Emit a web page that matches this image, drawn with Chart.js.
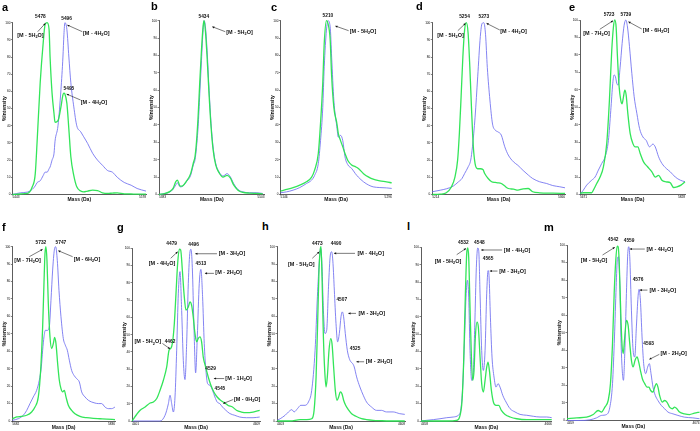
<!DOCTYPE html>
<html>
<head>
<meta charset="utf-8">
<script src="https://cdn.jsdelivr.net/npm/chart.js@4"></script>
<style>
  body { margin: 0; background: #fff; width: 700px; height: 431px; position: relative; overflow: hidden; }
  canvas { position: absolute; }
  .tag { position: absolute; font: bold 11px "Liberation Sans", Arial, sans-serif; line-height: 11px; color: #000; }
</style>
</head>
<body>
<script>
// ---- data (mass in Da, intensity in %) ----
const yTicks = [0, 10, 20, 30, 40, 50, 60, 70, 80, 90, 100];

const aRange = [5443, 5578];
const aMass = [5443, 5451, 5458, 5463, 5466, 5468, 5471, 5474, 5476, 5478, 5480, 5481, 5483, 5485, 5486, 5489, 5492, 5494, 5495, 5496, 5498, 5500, 5502, 5505, 5508, 5512, 5515, 5519, 5524, 5529, 5534, 5539, 5544, 5549, 5556, 5563, 5569, 5578];
const aBlue = [0, 1, 1.4, 3, 5, 7, 8, 11, 13, 13, 15, 16, 20, 24, 31, 40, 61, 80, 93, 100, 96, 80, 65, 51, 40, 36.5, 33.6, 29.7, 24, 20, 17, 14, 13, 10, 7, 5.4, 3.5, 2];
const aGreen = [0, 0.3, 0.6, 4.5, 12, 32, 65, 88, 99, 100, 96, 80, 59, 47, 42, 43, 51, 58, 59, 58.5, 53, 38, 22, 11, 4.5, 2, 1.5, 2, 2.5, 2.3, 1, 0.6, 0.8, 1, 0.4, 0.3, 0.2, 0.2];

const bRange = [5383, 5503];
const bMass = [5383, 5390, 5395.5, 5399, 5402, 5404, 5407, 5410, 5414, 5419, 5422, 5424, 5425.6, 5427.5, 5429.4, 5431.3, 5433.2, 5434.3, 5435.8, 5437.7, 5440, 5442.2, 5444.5, 5447.5, 5451.3, 5455.8, 5460.4, 5464.1, 5467.9, 5472.8, 5478.5, 5486, 5493.6, 5501];
const bBlue = [0, 0.6, 1.5, 3, 5.4, 6.7, 4.4, 4.8, 7.3, 11, 17, 20, 27, 39, 58, 77, 95, 100, 96.5, 83, 60, 41, 27.4, 17.9, 13, 10.6, 12, 10.2, 6.3, 2.9, 1.5, 1, 1, 0.6];
const bGreen = [0, 0.6, 1.8, 3.5, 7.3, 8.3, 4.8, 5, 7.5, 12, 18, 22, 30, 45, 65, 83, 97, 100, 94, 79, 57, 39, 26, 17, 12.5, 10, 11, 9.5, 5.5, 2.5, 1.2, 0.8, 0.6, 0.4];

const cRange = [5146, 5296];
const cMass = [5146, 5154, 5163, 5172, 5181, 5188, 5192, 5197, 5200, 5203, 5205, 5208, 5210, 5213, 5215, 5218, 5222, 5224, 5227, 5230, 5233, 5237, 5242, 5247, 5251, 5258, 5265, 5271, 5280, 5289, 5296];
const cBlue = [1, 1.5, 2.5, 4, 6.3, 8.3, 11, 17.9, 31, 50, 73.5, 94.6, 100, 96.5, 79, 54, 39, 33, 34, 31, 21.7, 17, 15, 12, 10, 7.3, 5.4, 4.4, 4, 3.8, 3.5];
const cGreen = [2, 2.9, 4, 5.4, 7.3, 10, 14, 23.6, 41, 64, 87, 100, 98.5, 89, 68, 50, 41, 35, 31, 27.4, 23.6, 19.4, 17, 16, 15, 12, 10, 8.8, 7.9, 7.3, 6.7];

const dRange = [5214, 5366];
const dMassBlue = [5214, 5223, 5230, 5238, 5244, 5248, 5251, 5255, 5258, 5260, 5263, 5266, 5269, 5271, 5273, 5275, 5277, 5280, 5283, 5286, 5289, 5293, 5297, 5301, 5307, 5312, 5318, 5324, 5329, 5337, 5345, 5352, 5360, 5366];
const dBlue = [1.6, 2.5, 3.3, 4.9, 7.4, 9.3, 12.2, 16, 20, 27.8, 45, 68.5, 92, 99.5, 100, 93, 74, 55, 41, 37.5, 36.5, 34.6, 27.8, 23, 19, 17, 14, 11.3, 9.3, 7.4, 6.4, 5.2, 4.5, 3.9];
const dMassGreen = [5214, 5223, 5230, 5236, 5240, 5243, 5245, 5247, 5249, 5251, 5253, 5255, 5257, 5259, 5261, 5263, 5266, 5269, 5272, 5274, 5278, 5282, 5286, 5289, 5293, 5297, 5301, 5307, 5312, 5318, 5324, 5329, 5337, 5352, 5366];
const dGreen = [0, 0.2, 1, 4.5, 10.3, 20, 35.5, 57, 80, 95.7, 100, 94, 74, 49, 27.8, 18, 15, 15, 14.6, 12.2, 9.3, 7.4, 7, 6.8, 6.4, 4.9, 3.5, 3.1, 2.5, 3.3, 3.5, 1.6, 1, 0.8, 0.6];

const eRange = [5671, 5828];
const eMassBlue = [5671, 5676, 5681, 5688.5, 5693.5, 5698.5, 5703.5, 5708.5, 5713.5, 5717, 5720, 5722, 5724, 5726, 5728, 5731, 5734, 5737, 5739.5, 5742, 5745, 5748.5, 5752, 5756, 5760, 5765, 5770, 5775, 5780, 5783.5, 5788.5, 5793.5, 5800, 5806, 5813.5, 5821, 5828];
const eBlue = [0, 2.5, 5.4, 8.2, 10, 14, 17.8, 21.6, 31, 48, 63.7, 68.5, 67.5, 63.7, 62.7, 73, 86.6, 97, 100, 96, 84.7, 69.4, 56, 46.5, 37.9, 33, 31, 27.3, 28.9, 27.3, 21.6, 17.8, 14.9, 13, 10, 8.2, 7.3];
const eMassGreen = [5671, 5676, 5683.5, 5688.5, 5691, 5696, 5701, 5706, 5711, 5715, 5718.5, 5721, 5723, 5725, 5727, 5729.5, 5732, 5734, 5736, 5738, 5740, 5742.5, 5746, 5750, 5753.5, 5757.5, 5761, 5766, 5772, 5778.5, 5783.5, 5788.5, 5793.5, 5800, 5806, 5811, 5816, 5822, 5828];
const eGreen = [0.6, 1, 1, 1, 2.5, 6.3, 10, 15.9, 29.3, 54, 82.8, 96, 100, 96, 79, 61.8, 54, 52, 56, 59.8, 57, 46.5, 35, 29.3, 27.3, 27.3, 23.5, 18.7, 15.9, 13, 10, 11, 8.2, 7.3, 6.7, 4, 4.4, 5.4, 7.3];

const fRange = [5682, 5836];
const fMassBlue = [5682, 5691, 5698.5, 5703.5, 5708.5, 5713.5, 5718.5, 5722.5, 5725.5, 5727.5, 5729.5, 5731.5, 5734.5, 5737.5, 5740, 5742.5, 5745, 5747, 5749.5, 5752, 5755, 5758.5, 5761.5, 5764.5, 5767.5, 5771, 5774.5, 5778.5, 5782.5, 5786, 5791, 5796, 5801, 5806, 5811, 5816, 5821, 5826, 5831, 5836];
const fBlue = [0.4, 1.3, 3.3, 6, 10, 13.8, 17.6, 23.4, 31, 40.6, 48.3, 52, 52, 54, 69.3, 86.6, 98, 100, 92, 75, 59.8, 47.3, 43.5, 40.6, 34.9, 29, 26.2, 24.3, 22.4, 16.7, 13.8, 11.9, 10.9, 10.3, 10, 10, 8, 7.1, 7.1, 8];
const fMassGreen = [5682, 5688.5, 5696, 5703.5, 5711, 5716, 5721, 5724.5, 5727.5, 5729.5, 5731, 5732.5, 5734, 5736, 5738.5, 5741, 5743.5, 5745.5, 5747.5, 5750, 5752.5, 5755, 5757.5, 5760, 5762.5, 5766, 5771, 5776, 5783.5, 5793.5, 5803.5, 5813.5, 5823.5, 5836];
const fGreen = [1.3, 2.3, 2.7, 3.3, 5.2, 8, 13.8, 29, 54, 79, 96, 100, 92, 67.4, 48.3, 41.6, 44.4, 48, 44.4, 33, 23.4, 18.6, 16.7, 17.6, 13.8, 9, 6.1, 4.2, 2.7, 1.9, 1.5, 1.3, 1.1, 0.8];

const gRange = [4401, 4609];
const gMassBlue = [4401.3, 4446.6, 4454.7, 4460.1, 4462.8, 4465.5, 4468.2, 4470.9, 4473.6, 4476.3, 4479, 4481.7, 4484.4, 4487.1, 4489.8, 4492.5, 4495.2, 4496.8, 4499, 4501.7, 4504.4, 4507.1, 4510.3, 4513, 4515.7, 4518.4, 4521.1, 4523.8, 4527.6, 4531.9, 4535.7, 4539.4, 4543.8, 4548.1, 4553.5, 4560, 4568, 4576.1, 4586.9, 4597.7, 4608.5];
const gBlue = [0, 0, 3.3, 10, 14.9, 10, 5.2, 13.9, 41, 74, 86.5, 64, 35, 24, 44.9, 79.7, 98, 99.4, 89, 54.5, 27.9, 48.7, 79.7, 87.8, 72, 44.9, 29.4, 21.7, 20.7, 17.8, 13.9, 11, 10, 8.1, 6.2, 4.3, 3.3, 2.3, 1.9, 1.9, 2.3];
const gMassGreen = [4401.3, 4408.8, 4414.2, 4422.3, 4430.4, 4435.8, 4441.2, 4446.6, 4452, 4457.4, 4461.2, 4463.9, 4466.6, 4469.8, 4472.5, 4475.2, 4477.9, 4480.1, 4482.8, 4485.5, 4488.7, 4492.5, 4495.2, 4497.9, 4500.6, 4503.3, 4506, 4508.7, 4511.4, 4514.1, 4516.8, 4520.6, 4524.9, 4529.2, 4534, 4539.4, 4544.8, 4551.9, 4557.3, 4564.3, 4570.7, 4578.8, 4586.9, 4597.7, 4608.5];
const gGreen = [0, 3.9, 6.2, 8.1, 10.4, 11, 13, 17.8, 23.6, 31.3, 41, 42, 44.9, 56.5, 73.9, 91.3, 99.5, 99, 87.4, 73.9, 64.2, 66, 69, 67, 60, 50.7, 45.8, 47.8, 48.7, 45.8, 37, 31.3, 25.5, 20.7, 16.8, 13.9, 12, 10.4, 9, 8.1, 6.2, 5.2, 4.8, 5.2, 6.2];

const hRange = [4403, 4608];
const hMassBlue = [4403.3, 4408.1, 4416.1, 4421.4, 4426.7, 4430.4, 4435.8, 4441.1, 4448, 4453.3, 4458.6, 4464, 4467.7, 4470.9, 4473, 4475.1, 4477.3, 4479.9, 4482.6, 4485.5, 4488.4, 4490.6, 4492.7, 4494.8, 4497.5, 4500.1, 4502.8, 4505.5, 4507.6, 4509.7, 4512.4, 4515.6, 4518.8, 4521.4, 4524.1, 4526.7, 4530.5, 4535.8, 4541.1, 4546.4, 4554.4, 4562.4, 4570.4, 4578.3, 4589, 4599.6, 4607.6];
const hBlue = [0.4, 1.3, 3.3, 5.2, 6.5, 5.2, 7.1, 9, 9, 10.9, 17.6, 40.6, 71.3, 92.3, 99, 88.5, 63.6, 50.2, 52.1, 77, 95.2, 97.1, 90.4, 75.1, 55.9, 45.4, 50.2, 59.8, 62.6, 59.8, 50.2, 40.6, 35.8, 33.9, 33, 31, 25.3, 19.5, 14.8, 10.9, 8, 6.1, 6.1, 5.2, 5.2, 4.2, 3.8];
const hMassGreen = [4403.3, 4424.1, 4440, 4450.7, 4458.6, 4462.4, 4465.6, 4468.2, 4470.3, 4472.5, 4473.5, 4475.1, 4477.3, 4479.4, 4481.5, 4483.6, 4486.3, 4489, 4491.1, 4493.7, 4496.4, 4499.1, 4501.7, 4504.4, 4507, 4509.7, 4512.9, 4517.2, 4522.5, 4529.4, 4538.4, 4546.4, 4557.1, 4567.7, 4583.7, 4607.6];
const hGreen = [0, 0, 0.8, 0.8, 1.3, 6.1, 25.3, 57.9, 86.6, 99, 100, 82.8, 48.3, 29.1, 19.5, 25.3, 40.6, 47.3, 44.4, 31, 17.6, 11.9, 13.8, 16.7, 15.7, 11.9, 9, 6.5, 4.2, 2.7, 1.3, 0.8, 0.4, 0.2, 0, 0];

const lRange = [4457.5, 4666];
const lMassBlue = [4457.5, 4466.6, 4477.2, 4487.8, 4498.5, 4509.1, 4517.1, 4520.8, 4524, 4526.7, 4529.3, 4531.5, 4533.6, 4535.7, 4538.4, 4540.5, 4543.2, 4545.8, 4548, 4549.6, 4551.7, 4554.3, 4557, 4559.7, 4562.3, 4564.5, 4566, 4568.2, 4570.8, 4574, 4577.2, 4580.4, 4583.6, 4587.9, 4593.2, 4599.6, 4607.5, 4615.5, 4626.2, 4636.8, 4647.4, 4658.1, 4666];
const lBlue = [0, 0.4, 0.8, 1.3, 1.9, 2.3, 3.3, 6.1, 19.5, 44.4, 71.3, 81, 71.3, 40.6, 23.4, 25.3, 54, 88.5, 99.6, 98, 73.2, 40.6, 29.1, 40.6, 73.2, 86.6, 83.7, 59.8, 36.8, 25.3, 19.5, 21.5, 19.5, 14.8, 10.9, 7.1, 5.2, 3.8, 3.3, 2.7, 2.3, 2.3, 1.9];
const lMassGreen = [4457.5, 4477.2, 4498.5, 4514.4, 4519.8, 4523, 4525.6, 4528.3, 4530.4, 4532, 4533.6, 4535.7, 4537.9, 4540, 4542.1, 4544.2, 4546.9, 4549, 4551.7, 4554.3, 4557, 4559.7, 4562.3, 4564.5, 4566.6, 4569.8, 4573, 4577.2, 4581.5, 4585.7, 4591.6, 4599.6, 4610.2, 4626.2, 4647.4, 4666];
const lGreen = [0, 0, 0, 0.4, 3.3, 11.9, 34.9, 73.2, 96.2, 99.6, 94.3, 65.5, 36.8, 23.4, 29.1, 48.3, 56.9, 54, 36.8, 21.5, 16.7, 23.4, 31, 33.9, 29.1, 17.6, 10.9, 9, 9, 6.1, 3.8, 2.3, 1.3, 0.8, 0.8, 0.8];

const mRange = [4459.3, 4673.6];
const mMassBlue = [4459.3, 4480.2, 4496.4, 4507.1, 4515.1, 4523.2, 4528.6, 4532.9, 4536.1, 4538.8, 4540.9, 4542.5, 4544.7, 4546.8, 4549, 4550.6, 4552.7, 4555.4, 4557.6, 4559.2, 4560.8, 4563.5, 4566.2, 4568.9, 4571.5, 4574.2, 4575.8, 4578, 4580.7, 4583.3, 4586.6, 4589.8, 4592.5, 4595.2, 4598.4, 4602.1, 4606.4, 4611.8, 4617.2, 4622.6, 4630.6, 4638.7, 4649.4, 4662.8, 4673.6];
const mBlue = [0, 0, 0.4, 1.5, 2.9, 3.4, 7.6, 21, 47.6, 76.2, 92.4, 93.3, 78, 43.8, 26.7, 22.9, 38, 72.4, 95.2, 99, 93.3, 62.9, 40, 36.2, 53.3, 70.5, 74.7, 68.6, 47.6, 32.4, 26.7, 30.5, 32.4, 26.7, 19, 14.3, 11.4, 8.6, 6.7, 4.8, 3.8, 2.9, 1.9, 1.5, 1];
const mMassGreen = [4459.3, 4474.9, 4491, 4501.7, 4509.8, 4515.1, 4520.5, 4525.9, 4529.6, 4532.9, 4535.6, 4538.2, 4540.4, 4542, 4543.6, 4545.8, 4547.9, 4550.1, 4552.7, 4555.4, 4558.1, 4560.8, 4563.5, 4566.2, 4569.4, 4572.6, 4575.3, 4578, 4581.2, 4585, 4588.7, 4591.9, 4594.6, 4598.4, 4601.1, 4603.8, 4606.4, 4609.1, 4613.4, 4617.2, 4620.9, 4625.2, 4629.5, 4633.3, 4637, 4641.3, 4649.4, 4657.5, 4665.5, 4673.6];
const mGreen = [1, 1.5, 1.9, 3.4, 5.7, 4.8, 7.6, 11.4, 21, 43.8, 72.4, 91.4, 99.4, 99, 91.4, 66.7, 45.7, 38.1, 47.6, 57.1, 54.3, 43.8, 34.3, 30.5, 34.3, 36.2, 33.3, 28.6, 23.8, 21, 19, 19, 17.1, 16.2, 19, 21, 19, 14.3, 10.5, 11.4, 10.5, 7.6, 6.7, 7.6, 6.7, 4.8, 3.8, 3.4, 4.2, 4.8];

// ---- layout ----
const FONT = '"Liberation Sans", Arial, sans-serif';
const BLUE = 'rgba(110,110,240,0.95)';
const GREEN = 'rgba(40,228,80,0.95)';

// peak labels: anchored on a (mass, intensity) point, offsets in px
const panels = [
  { tag: 'a', L: 12.5, R: 146, T: 22.7, B: 194.5, range: aRange, bm: aMass, b: aBlue, gm: aMass, g: aGreen, notes: [
    { m: 5478, i: 100, num: '5478', nx: -6.7, ny: -6, ion: '[M - 5H2O]', ix: -16.7, iy: 12.3, ax: -9.4, ay: 9, bx: -1.7, by: 0.6 },
    { m: 5496, i: 100, num: '5496', nx: 1.7, ny: -4, ion: '[M - 4H2O]', ix: 31.4, iy: 10.6, ax: 17.4, ay: 9, bx: 2.4, by: 2.3 },
    { m: 5495, i: 59, num: '5495', nx: 5, ny: -4, ion: '[M - 4H2O]', ix: 30, iy: 9.6, ax: 16.7, ay: 6.9, bx: 2.7, by: 0.9 }] },
  { tag: 'b', L: 159, R: 264.5, T: 20.7, B: 194.5, range: bRange, bm: bMass, b: bBlue, gm: bMass, g: bGreen, notes: [
    { m: 5434, i: 100, num: '5434', nx: 0, ny: -4, ion: '[M - 5H2O]', ix: 35.7, iy: 12, ax: 21.4, ay: 11, bx: 8.4, by: 6 }] },
  { tag: 'c', L: 280.5, R: 391.7, T: 20.7, B: 194.5, range: cRange, bm: cMass, b: cBlue, gm: cMass, g: cGreen, notes: [
    { m: 5210, i: 100, num: '5210', nx: 0, ny: -4.7, ion: '[M - 5H2O]', ix: 35, iy: 11, ax: 20.7, ay: 10, bx: 7.4, by: 5.3 }] },
  { tag: 'd', L: 432.3, R: 565, T: 22.7, B: 194.5, range: dRange, bm: dMassBlue, b: dBlue, gm: dMassGreen, g: dGreen, notes: [
    { m: 5254, i: 100, num: '5254', nx: -2.7, ny: -6, ion: '[M - 5H2O]', ix: -16.7, iy: 12.3, ax: -9.4, ay: 8, bx: -1.7, by: 0.6 },
    { m: 5273, i: 100, num: '5273', nx: 0, ny: -6, ion: '[M - 4H2O]', ix: 29.7, iy: 9, ax: 16, ay: 7.3, bx: 2.7, by: 0.6 }] },
  { tag: 'e', L: 580, R: 685, T: 20, B: 194.5, range: eRange, bm: eMassBlue, b: eBlue, gm: eMassGreen, g: eGreen, notes: [
    { m: 5723, i: 100, num: '5723', nx: -5.7, ny: -5, ion: '[M - 7H2O]', ix: -18.3, iy: 13.3, ax: -15, ay: 9.3, bx: -1.7, by: 0.7 },
    { m: 5739.5, i: 100, num: '5739', nx: 0, ny: -5, ion: '[M - 6H2O]', ix: 30.3, iy: 10.7, ax: 16, ay: 9, bx: 2.6, by: 1.7 }] },
  { tag: 'f', L: 12.3, R: 115, T: 246.7, B: 421, range: fRange, bm: fMassBlue, b: fBlue, gm: fMassGreen, g: fGreen, notes: [
    { m: 5732, i: 100, num: '5732', nx: -4.7, ny: -4.4, ion: '[M - 7H2O]', ix: -18, iy: 14, ax: -16.4, ay: 10, bx: -3, by: 2.6 },
    { m: 5747, i: 100, num: '5747', nx: 5.3, ny: -4.4, ion: '[M - 6H2O]', ix: 31.3, iy: 12.6, ax: 17, ay: 10, bx: 2.6, by: 4 }] },
  { tag: 'g', L: 132, R: 260, T: 248.3, B: 421, range: gRange, bm: gMassBlue, b: gBlue, gm: gMassGreen, g: gGreen, notes: [
    { m: 4479, i: 100, num: '4479', nx: -8.3, ny: -5, ion: '[M - 4H2O]', ix: -18, iy: 15, ax: -9.3, ay: 10, bx: -2.3, by: 3.4 },
    { m: 4496.8, i: 99.4, num: '4496', nx: 2.6, ny: -5, ion: '[M - 3H2O]', ix: 41, iy: 4.4, ax: 26, ay: 4.4, bx: 4.3, by: 4.4 },
    { m: 4513, i: 87.8, num: '4513', nx: 0, ny: -6, ion: '[M - 2H2O]', ix: 27.7, iy: 3.4, ax: 13, ay: 4, bx: 4, by: 4 },
    { m: 4462.8, i: 42, num: '4462', nx: 0, ny: -6.6, ion: '[M - 5H2O]', ix: -22.3, iy: -6.6, ax: -7.6, ay: -5, bx: 0, by: 0.4 },
    { m: 4528.7, i: 20.7, num: '4529', nx: 0, ny: -16.7, ion: '[M - 1H2O]', ix: 28, iy: -6.7, ax: 13.6, ay: -6.7, bx: 3.3, by: -6.7 },
    { m: 4543.8, i: 10, num: '4545', nx: 0, ny: -15.2, ion: '[M - 0H2O]', ix: 27.3, iy: -4.5, ax: 13.3, ay: -4.2, bx: 3.3, by: -0.2 }] },
  { tag: 'h', L: 277, R: 405, T: 246.7, B: 421, range: hRange, bm: hMassBlue, b: hBlue, gm: hMassGreen, g: hGreen, notes: [
    { m: 4473, i: 100, num: '4473', nx: -3.4, ny: -3.4, ion: '[M - 5H2O]', ix: -19.4, iy: 17.3, ax: -8.4, ay: 11.6, bx: -1.4, by: 5 },
    { m: 4490.6, i: 97.1, num: '4490', nx: 4.3, ny: -8.4, ion: '[M - 4H2O]', ix: 39, iy: 1.6, ax: 23.3, ay: 1.6, bx: 2.3, by: 1.6 },
    { m: 4507.6, i: 62.6, num: '4507', nx: -0.6, ny: -12.5, ion: '[M - 3H2O]', ix: 29.4, iy: 1.5, ax: 13.7, ay: 1.5, bx: 6, by: 1.5 },
    { m: 4524.1, i: 33, num: '4525', nx: 2.5, ny: -15, ion: '[M - 2H2O]', ix: 26.5, iy: -1.7, ax: 11.5, ay: -1.7, bx: 3.8, by: -1.7 }] },
  { tag: 'l', L: 421, R: 551.7, T: 247.3, B: 421, range: lRange, bm: lMassBlue, b: lBlue, gm: lMassGreen, g: lGreen, notes: [
    { m: 4532, i: 99.6, num: '4532', nx: -4.4, ny: -5, ion: '[M - 5H2O]', ix: -19.7, iy: 13.4, ax: -11, ay: 6.7, bx: -1.7, by: 0.4 },
    { m: 4548, i: 99.6, num: '4548', nx: 1.7, ny: -5, ion: '[M - 4H2O]', ix: 39.4, iy: 2, ax: 24.4, ay: 2, bx: 3.4, by: 2 },
    { m: 4564.5, i: 86.6, num: '4565', nx: 0, ny: -12.2, ion: '[M - 3H2O]', ix: 24.4, iy: 0.5, ax: 9.4, ay: 0.5, bx: 1.7, by: 0.5 }] },
  { tag: 'm', L: 567, R: 699.5, T: 245, B: 420.5, range: mRange, bm: mMassBlue, b: mBlue, gm: mMassGreen, g: mGreen, notes: [
    { m: 4542, i: 100, num: '4542', nx: -5, ny: -5, ion: '[M - 5H2O]', ix: -24, iy: 15.7, ax: -15.6, ay: 10, bx: -3.3, by: 2.3 },
    { m: 4559.2, i: 99, num: '4559', nx: 0.3, ny: -6, ion: '[M - 4H2O]', ix: 31, iy: 2.3, ax: 16, ay: 2.3, bx: 1, by: 2.3 },
    { m: 4575.8, i: 74.7, num: '4576', nx: -1, ny: -10, ion: '[M - 3H2O]', ix: 23.7, iy: 0.7, ax: 8.4, ay: 0.7, bx: 0.7, by: 0.7 },
    { m: 4592.5, i: 32.4, num: '4593', nx: -0.7, ny: -20, ion: '[M - 2H2O]', ix: 24.3, iy: -10, ax: 10, ay: -9.3, bx: 0, by: -4.3 }] }
];

const tagPos = { a: [2, 2], b: [151, 1], c: [271, 2], d: [416, 1], e: [569, 2], f: [2, 222], g: [117, 222], h: [262, 221], l: [407, 221], m: [544, 222] };

function toXY(xs, ys) {
  return xs.map((x, k) => ({ x: x, y: ys[k] }));
}

// ion label with a subscript 2
function drawIon(ctx, text, cx, cy) {
  const k = text.indexOf('H2');
  const head = text.slice(0, k + 1), tail = text.slice(k + 2);
  ctx.font = 'bold 5.5px ' + FONT;
  const w1 = ctx.measureText(head).width, w3 = ctx.measureText(tail).width;
  ctx.font = 'bold 3.8px ' + FONT;
  const w2 = ctx.measureText('2').width;
  const x = cx - (w1 + w2 + w3) / 2;
  ctx.textAlign = 'left';
  ctx.font = 'bold 5.5px ' + FONT;
  ctx.fillText(head, x, cy);
  ctx.fillText(tail, x + w1 + w2, cy);
  ctx.font = 'bold 3.8px ' + FONT;
  ctx.fillText('2', x + w1, cy + 1.6);
}

function drawArrow(ctx, x0, y0, x1, y1) {
  ctx.beginPath();
  ctx.moveTo(x0, y0);
  ctx.lineTo(x1, y1);
  ctx.stroke();
  const a = Math.atan2(y1 - y0, x1 - x0), h = 2.4;
  ctx.beginPath();
  ctx.moveTo(x1, y1);
  ctx.lineTo(x1 - h * Math.cos(a - 0.45), y1 - h * Math.sin(a - 0.45));
  ctx.lineTo(x1 - h * Math.cos(a + 0.45), y1 - h * Math.sin(a + 0.45));
  ctx.closePath();
  ctx.fill();
}

const peakNotes = {
  id: 'peakNotes',
  afterDatasetsDraw(chart, args, opts) {
    const ctx = chart.ctx, xs = chart.scales.x, ys = chart.scales.y;
    ctx.save();
    ctx.fillStyle = '#111';
    ctx.strokeStyle = '#222';
    ctx.lineWidth = 0.6;
    ctx.textBaseline = 'middle';
    opts.notes.forEach(n => {
      const X = xs.getPixelForValue(n.m), Y = ys.getPixelForValue(n.i);
      ctx.font = 'bold 4.8px ' + FONT;
      ctx.textAlign = 'center';
      ctx.fillText(n.num, X + n.nx, Y + n.ny);
      drawIon(ctx, n.ion, X + n.ix, Y + n.iy);
      drawArrow(ctx, X + n.ax, Y + n.ay, X + n.bx, Y + n.by);
    });
    ctx.restore();
  }
};

panels.forEach(p => {
  const top = p.T > 200;
  const cl = Math.floor(p.L - 11), cr = Math.ceil(p.R + 4);
  const ct = Math.floor(p.T - 10), cb = Math.ceil(p.B + 10.5);
  const padL = p.L - cl, padR = cr - p.R, padT = p.T - ct, padB = cb - p.B;
  const tOff = top ? 6.5 : 5.3;

  const cv = document.createElement('canvas');
  cv.width = cr - cl;
  cv.height = cb - ct;
  cv.style.left = cl + 'px';
  cv.style.top = ct + 'px';
  document.body.appendChild(cv);

  new Chart(cv, {
    type: 'line',
    data: {
      datasets: [
        { data: toXY(p.gm, p.g), borderColor: GREEN, borderWidth: 1.3, clip: 5 },
        { data: toXY(p.bm, p.b), borderColor: BLUE, borderWidth: 0.9, clip: 5 }
      ]
    },
    options: {
      responsive: false,
      animation: false,
      devicePixelRatio: 1,
      layout: { padding: { left: 0, right: padR, top: padT, bottom: 0 } },
      elements: { point: { radius: 0 }, line: { cubicInterpolationMode: 'monotone' } },
      plugins: { legend: { display: false }, tooltip: { enabled: false }, peakNotes: { notes: p.notes } },
      scales: {
        x: {
          type: 'linear', min: p.range[0], max: p.range[1],
          afterBuildTicks: s => { s.ticks = p.range.map(v => ({ value: v })); },
          afterFit: s => { s.height = padB; },
          grid: { display: false, drawTicks: false },
          border: { color: '#333', width: 0.8 },
          ticks: { font: { size: 3.2, family: FONT }, color: '#000', padding: 0.8, maxRotation: 0, autoSkip: false, align: 'inner',
                   callback: v => String(Math.round(v)) },
          title: { display: true, text: 'Mass (Da)', color: '#111', font: { size: 5, weight: 'bold', family: FONT },
                   padding: { top: 0, bottom: Math.max(0, padB - 3 - tOff) } }
        },
        y: {
          min: 0, max: 100,
          afterBuildTicks: s => { s.ticks = yTicks.map(v => ({ value: v })); },
          afterFit: s => { s.width = padL; },
          grid: { drawOnChartArea: false, drawTicks: true, tickLength: 1.5, color: '#333', lineWidth: 0.6 },
          border: { color: '#333', width: 0.8 },
          ticks: { font: { size: 3.1, family: FONT }, color: '#000', padding: 0.5 },
          title: { display: true, text: '%Intensity', color: '#111', font: { size: 5, weight: 'bold', family: FONT },
                   padding: { top: Math.max(0, padL - 7.7 - 3), bottom: 0 } }
        }
      }
    },
    plugins: [peakNotes]
  });

  const t = document.createElement('div');
  t.className = 'tag';
  t.textContent = p.tag;
  t.style.left = tagPos[p.tag][0] + 'px';
  t.style.top = tagPos[p.tag][1] + 'px';
  document.body.appendChild(t);
});
</script>
</body>
</html>
